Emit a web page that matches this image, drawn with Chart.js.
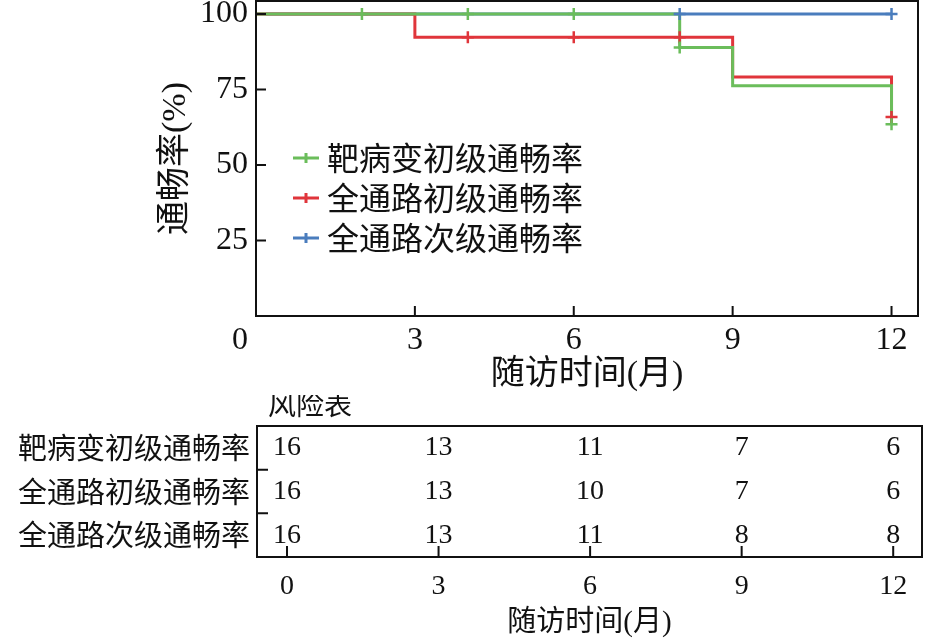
<!DOCTYPE html>
<html>
<head>
<meta charset="utf-8">
<title>通畅率</title>
<script src="https://cdn.jsdelivr.net/npm/chart.js@4.4.1/dist/chart.umd.min.js"></script>
<style>
  html, body { margin: 0; padding: 0; background: #fff; }
  .box { position: relative; width: 941px; }
  #kmBox { height: 395px; }
  #riskBox { height: 246px; }
</style>
</head>
<body>
<div class="box" id="kmBox"><canvas id="kmChart"></canvas></div>
<div class="box" id="riskBox"><canvas id="riskChart"></canvas></div>
<script>
// series
const seriesNames = ['靶病变初级通畅率', '全通路初级通畅率', '全通路次级通畅率'];
const seriesColors = ['#6bbd5b', '#e0353b', '#4a7dbd'];

// step curves (months, %)
const greenTimes = [0, 8, 9, 12];
const greenValues = [100, 88.9, 76.2, 63.5];
const redTimes = [0, 3, 9, 12];
const redValues = [100, 92.3, 79.1, 65.9];
const blueTimes = [0, 12];
const blueValues = [100, 100];

// censor marks
const greenCensorTimes = [2, 4, 6, 8, 12];
const greenCensorValues = [100, 100, 100, 88.9, 63.5];
const redCensorTimes = [4, 6, 8, 12];
const redCensorValues = [92.3, 92.3, 92.3, 65.9];
const blueCensorTimes = [8, 12];
const blueCensorValues = [100, 100];

// ticks
const kmXTicks = [0, 3, 6, 9, 12];
const kmYTicks = [25, 50, 75, 100];

// risk table (numbers at risk)
const riskTimes = [0, 3, 6, 9, 12];
const riskGreen = [16, 13, 11, 7, 6];
const riskRed = [16, 13, 10, 7, 6];
const riskBlue = [16, 13, 11, 8, 8];
const riskRowTicks = [1, 2, 3];
const riskRowBounds = [1.5, 2.5];

Chart.defaults.font.family = "'Liberation Serif', 'Noto Sans CJK SC', serif";
Chart.defaults.color = '#111';

const cjk = "'Noto Sans CJK SC', sans-serif";
const pts = (xs, ys) => xs.map((x, i) => ({x: x, y: ys[i]}));

// keep the plot box where it is: no extra room for overhanging labels
function noPad(s) {
    s.paddingTop = 0;
    s.paddingBottom = 0;
    s.paddingLeft = 0;
    s.paddingRight = 0;
}

// box around the plot area plus inward tick marks
const frameTicks = {
    id: 'frameTicks',
    afterDraw(chart, args, opts) {
        const {ctx, chartArea: a, scales} = chart;
        ctx.save();
        ctx.strokeStyle = '#111';
        ctx.lineWidth = 2;
        ctx.strokeRect(a.left, a.top, a.right - a.left, a.bottom - a.top);
        ctx.beginPath();
        scales.x.ticks.forEach(t => {
            const px = scales.x.getPixelForValue(t.value);
            ctx.moveTo(px, a.bottom);
            ctx.lineTo(px, a.bottom - opts.length);
        });
        const yVals = opts.yValues || scales.y.ticks.map(t => t.value);
        yVals.forEach(v => {
            const py = scales.y.getPixelForValue(v);
            ctx.moveTo(a.left, py);
            ctx.lineTo(a.left + opts.length, py);
        });
        ctx.stroke();
        ctx.restore();
    }
};

// legend drawn inside the plot
const insideLegend = {
    id: 'insideLegend',
    afterDraw(chart, args, opts) {
        if (!opts.items) return;
        const ctx = chart.ctx;
        ctx.save();
        opts.items.forEach((name, i) => {
            const y = opts.y + i * opts.gap;
            ctx.strokeStyle = opts.colors[i];
            ctx.lineWidth = 3;
            ctx.beginPath();
            ctx.moveTo(opts.x, y);
            ctx.lineTo(opts.x + 26, y);
            ctx.moveTo(opts.x + 13, y - 5);
            ctx.lineTo(opts.x + 13, y + 5);
            ctx.stroke();
            ctx.fillStyle = '#111';
            ctx.font = opts.font;
            ctx.textBaseline = 'middle';
            ctx.textAlign = 'left';
            ctx.fillText(name, opts.x + 34, y);
        });
        ctx.restore();
    }
};

function stepSet(i, xs, ys, order) {
    return {
        label: seriesNames[i],
        data: pts(xs, ys),
        showLine: true,
        stepped: 'before',
        borderColor: seriesColors[i],
        borderWidth: 3,
        pointRadius: 0,
        order: order
    };
}

function censorSet(i, xs, ys, order) {
    return {
        label: seriesNames[i] + ' 删失',
        data: pts(xs, ys),
        showLine: false,
        pointStyle: 'cross',
        pointRadius: 6,
        pointBorderWidth: 2.5,
        borderColor: seriesColors[i],
        order: order
    };
}

new Chart(document.getElementById('kmChart'), {
    type: 'scatter',
    data: {
        datasets: [
            censorSet(0, greenCensorTimes, greenCensorValues, 0),
            censorSet(1, redCensorTimes, redCensorValues, 1),
            censorSet(2, blueCensorTimes, blueCensorValues, 2),
            stepSet(0, greenTimes, greenValues, 3),
            stepSet(1, redTimes, redValues, 4),
            stepSet(2, blueTimes, blueValues, 5)
        ]
    },
    options: {
        responsive: true,
        maintainAspectRatio: false,
        animation: false,
        layout: { autoPadding: false, padding: { left: 140, right: 23, top: 1, bottom: 0 } },
        plugins: {
            legend: { display: false },
            tooltip: { enabled: false },
            frameTicks: { length: 10 },
            insideLegend: {
                items: seriesNames,
                colors: seriesColors,
                x: 293, y: 158, gap: 40,
                font: '32px ' + cjk
            }
        },
        scales: {
            x: {
                type: 'linear',
                min: 0,
                max: 12.5,
                afterBuildTicks: s => { s.ticks = kmXTicks.map(v => ({value: v})); },
                afterFit: s => { s.height = 79; noPad(s); },
                grid: { display: false, drawTicks: false },
                border: { display: false },
                ticks: {
                    font: { size: 32 },
                    padding: 5,
                    maxRotation: 0,
                    callback: v => v === 0 ? '0    ' : String(v)
                },
                title: {
                    display: true,
                    text: '随访时间(月)',
                    font: { size: 34 },
                    padding: { top: 0, bottom: 0 }
                }
            },
            y: {
                min: 0,
                max: 104.3,
                afterBuildTicks: s => { s.ticks = kmYTicks.map(v => ({value: v})); },
                afterFit: s => { s.width = 116; noPad(s); },
                grid: { display: false, drawTicks: false },
                border: { display: false },
                ticks: { font: { size: 32 }, padding: 8 },
                title: {
                    display: true,
                    text: '通畅率(%)',
                    font: { size: 34 },
                    padding: { top: 16, bottom: 0 }
                }
            }
        }
    },
    plugins: [frameTicks, insideLegend]
});

// numbers at risk, placed through the chart scales
const riskNumbers = {
    id: 'riskNumbers',
    afterDraw(chart, args, opts) {
        const {ctx, chartArea: a, scales} = chart;
        const rows = [riskGreen, riskRed, riskBlue];
        ctx.save();
        ctx.fillStyle = '#111';
        ctx.textBaseline = 'middle';
        ctx.textAlign = 'center';
        ctx.font = "28px 'Liberation Serif', serif";
        rows.forEach((row, r) => {
            const py = scales.y.getPixelForValue(riskRowTicks[r]);
            row.forEach((n, i) => {
                ctx.fillText(String(n), scales.x.getPixelForValue(riskTimes[i]), py);
            });
        });
        ctx.font = '28px ' + cjk;
        ctx.textAlign = 'left';
        ctx.fillText('风险表', a.left + 11, 9);
        ctx.restore();
    }
};

new Chart(document.getElementById('riskChart'), {
    type: 'scatter',
    data: { datasets: [] },
    options: {
        responsive: true,
        maintainAspectRatio: false,
        animation: false,
        layout: { autoPadding: false, padding: { left: 0, right: 19, top: 31, bottom: 0 } },
        plugins: {
            legend: { display: false },
            tooltip: { enabled: false },
            frameTicks: { length: 11, yValues: riskRowBounds }
        },
        scales: {
            x: {
                type: 'linear',
                min: -0.594,
                max: 12.57,
                afterBuildTicks: s => { s.ticks = riskTimes.map(v => ({value: v})); },
                afterFit: s => { s.height = 84; noPad(s); },
                grid: { display: false, drawTicks: false },
                border: { display: false },
                ticks: { font: { size: 28 }, padding: 13, maxRotation: 0 },
                title: {
                    display: true,
                    text: '随访时间(月)',
                    font: { size: 29 },
                    padding: { top: 0, bottom: 0 }
                }
            },
            y: {
                type: 'linear',
                min: 0.5,
                max: 3.5,
                reverse: true,
                afterBuildTicks: s => { s.ticks = riskRowTicks.map(v => ({value: v})); },
                afterFit: s => { s.width = 257; noPad(s); },
                grid: { display: false, drawTicks: false },
                border: { display: false },
                ticks: {
                    font: { size: 29, family: cjk },
                    padding: 7,
                    callback: v => seriesNames[v - 1]
                }
            }
        }
    },
    plugins: [frameTicks, riskNumbers]
});
</script>
</body>
</html>
